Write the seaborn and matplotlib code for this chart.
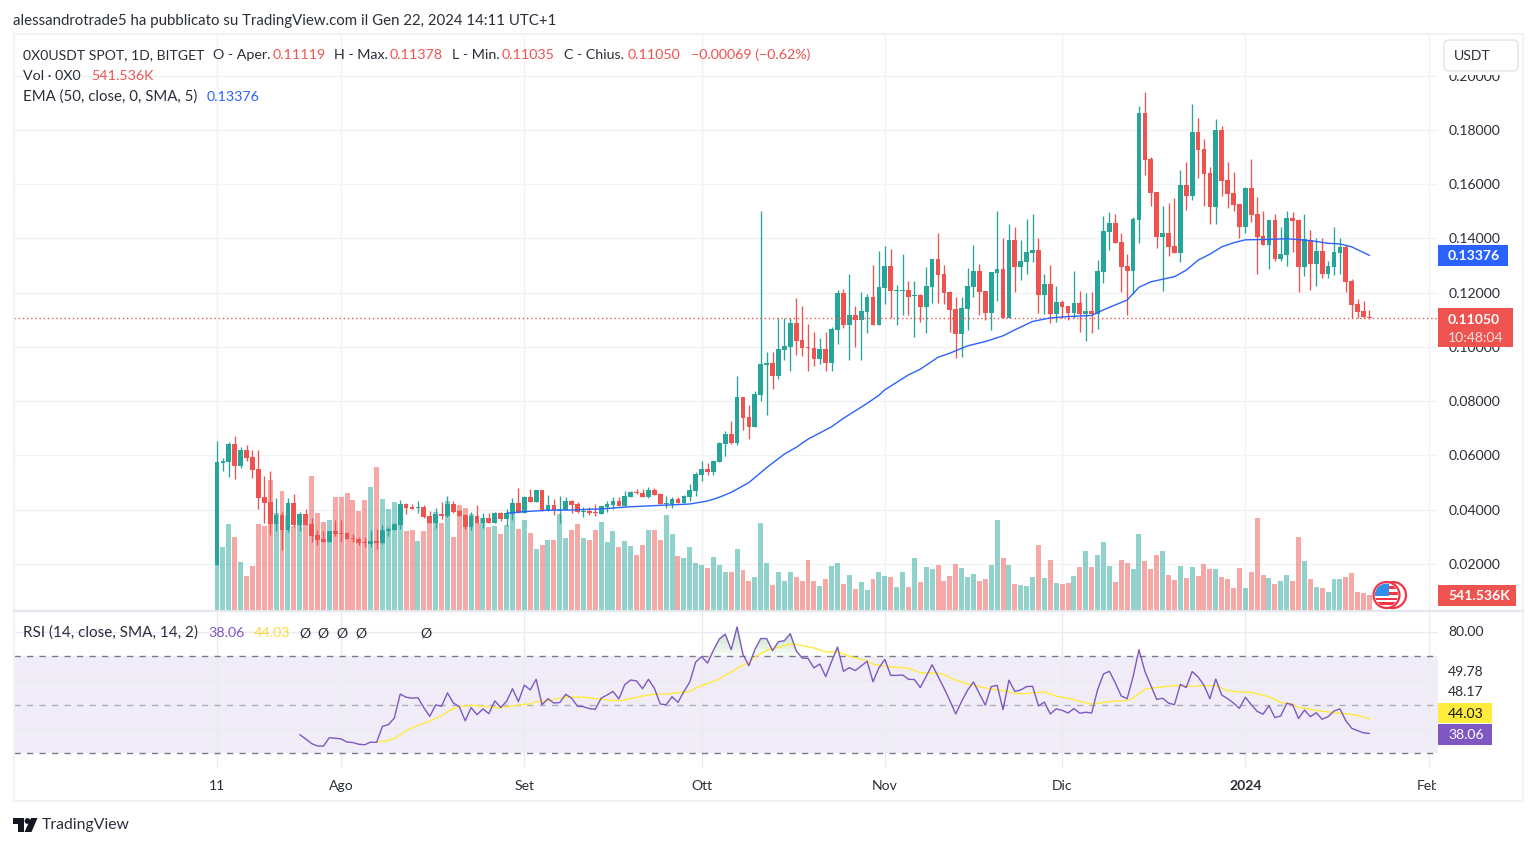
import numpy as np
import pandas as pd
import seaborn as sns
import matplotlib.pyplot as plt
from matplotlib.patches import Rectangle, Circle, FancyBboxPatch, Polygon
from matplotlib.transforms import Bbox

# prices are in thousandths of USDT, day 0 is Jul 11 2023
body_top = [57.6,58.0,64.2,64.2,62.0,62.0,59.4,55.0,44.7,42.8,
    38.1,38.1,42.5,42.5,38.4,38.4,34.7,30.7,29.2,32.2,
    32.2,31.4,31.4,29.6,29.2,28.1,28.5,28.5,32.5,32.9,
    34.7,42.1,42.1,41.0,41.0,41.0,37.7,38.4,38.4,42.1,
    42.1,39.5,38.1,37.7,37.7,37.0,37.0,38.8,38.8,38.8,
    42.5,42.5,44.7,44.7,47.3,47.3,41.7,41.7,40.3,43.2,
    43.2,42.1,39.5,39.5,39.2,41.4,42.1,43.2,43.2,45.0,
    46.5,46.6,46.2,47.3,47.3,45.8,42.5,44.0,44.0,45.0,
    47.3,53.2,55.0,55.0,58.0,64.6,67.9,67.9,81.6,81.6,
    74.2,82.7,93.7,94.1,94.1,99.3,100.4,108.9,108.9,102.6,
    100.0,99.6,99.3,99.3,106.6,119.9,119.9,111.8,111.8,113.3,
    118.4,118.4,122.1,129.9,129.9,121.0,121.0,121.0,119.2,119.2,
    122.5,132.4,132.4,126.9,120.3,114.0,114.4,122.5,128.0,128.0,
    120.7,127.7,128.8,128.8,139.5,139.5,131.7,135.0,135.8,135.8,
    123.2,123.2,116.6,116.6,115.1,116.2,116.2,113.3,113.3,128.0,
    142.8,145.7,145.7,138.7,129.9,147.2,186.2,186.2,169.3,157.1,
    142.0,142.0,137.2,159.7,159.7,179.2,179.2,173.0,164.1,180.0,
    180.0,161.5,156.7,152.7,158.6,158.6,149.0,140.9,146.8,146.8,
    134.2,147.5,147.5,146.8,139.8,139.4,135.4,135.4,129.8,135.0,
    136.8,136.8,124.3,115.8,113.2,111.19]
body_bot = [19.6,57.2,57.6,56.1,56.1,59.1,54.6,44.3,42.5,34.7,
    34.7,32.5,32.5,34.4,34.4,34.4,30.3,28.8,28.1,28.1,
    31.1,31.2,29.2,29.2,27.7,27.7,27.4,27.7,27.7,32.2,
    32.5,34.4,40.6,40.3,40.6,37.3,35.1,35.1,37.7,37.7,
    39.2,37.7,33.6,33.6,35.1,35.1,35.1,35.1,36.6,36.6,
    38.4,38.8,38.8,42.8,42.8,39.5,39.5,39.9,39.9,39.9,
    41.7,39.2,39.2,38.8,38.8,38.4,41.0,41.7,41.4,41.4,
    44.7,46.3,44.7,44.7,45.4,42.1,42.1,42.1,42.5,42.5,
    44.7,46.9,52.8,53.9,53.9,57.6,64.2,64.7,64.7,73.8,
    70.5,70.5,82.3,93.4,89.3,89.3,98.9,100.0,102.2,99.6,
    99.6,95.6,95.6,94.1,94.1,106.3,108.1,108.1,110.0,110.0,
    112.9,108.1,108.1,121.8,120.6,120.6,120.6,118.4,118.8,114.8,
    114.8,122.1,126.5,119.9,113.7,104.8,104.8,114.0,122.1,120.3,
    112.6,112.6,127.3,110.7,110.7,129.5,129.5,131.4,134.7,119.2,
    119.2,112.2,112.2,114.8,112.6,112.6,112.2,112.2,112.2,112.2,
    127.7,142.4,138.4,129.5,128.0,128.0,146.8,168.9,156.7,140.5,
    140.5,136.8,134.6,134.6,155.6,155.6,172.6,163.7,151.6,151.6,
    161.2,156.4,152.3,144.2,144.2,148.6,140.5,137.6,137.6,132.4,
    132.4,133.9,146.4,129.5,129.5,130.6,130.6,126.9,126.9,129.5,
    134.6,123.9,115.4,112.9,111.0,110.5]
high = [65.3,59.07,65.0,67.2,63.1,63.9,62.0,62.0,52.4,54.3,
    44.3,39.2,44.3,45.8,39.2,40.3,37.0,32.5,32.2,32.2,
    36.2,36.2,31.8,31.1,30.0,30.0,32.5,32.9,34.4,33.6,
    35.1,43.6,42.5,42.1,43.2,41.7,39.5,40.6,42.8,45.0,
    43.2,39.9,38.4,39.2,41.7,38.8,38.8,39.2,39.2,40.3,
    44.3,48.0,45.1,47.6,47.3,47.3,45.4,44.0,45.0,44.7,
    43.6,42.8,41.0,41.0,42.1,41.4,43.2,44.7,44.7,46.9,
    46.9,47.6,47.6,48.4,48.0,46.2,45.0,44.7,44.7,45.4,
    49.5,53.9,58.0,57.2,58.3,65.0,69.0,72.7,89.3,81.6,
    78.6,83.8,150.1,98.2,98.2,110.6,110.6,110.6,118.0,115.1,
    108.5,105.5,103.3,105.5,107.4,121.0,121.4,126.9,115.1,120.3,
    119.5,130.2,135.4,137.2,136.1,122.9,134.3,124.3,124.3,119.5,
    129.5,132.4,142.0,130.2,120.7,118.5,118.5,129.2,137.6,130.6,
    120.7,127.7,150.2,140.2,145.4,144.3,139.5,147.2,149.0,140.2,
    126.9,130.2,122.5,117.3,115.1,128.0,120.7,119.9,120.3,132.1,
    148.3,149.8,149.0,142.0,134.3,147.9,188.8,194.0,170.0,157.1,
    151.9,153.0,154.9,165.2,168.2,189.6,184.4,176.6,166.3,184.0,
    181.4,168.2,164.5,152.7,159.0,169.3,155.3,150.1,146.8,149.0,
    144.2,150.1,149.7,147.1,149.0,143.1,140.1,140.1,131.7,144.2,
    140.1,137.6,125.0,117.7,116.9,113.78]
low = [19.6,54.3,52.1,51.3,55.4,58.0,51.7,40.3,35.1,30.7,
    32.2,25.2,31.8,33.6,32.2,34.4,28.1,27.0,28.1,28.1,
    30.3,28.1,29.2,28.1,27.0,26.3,26.3,25.5,27.4,30.3,
    32.5,32.9,38.4,40.3,38.8,37.0,35.1,33.3,36.6,37.3,
    38.8,37.7,32.9,32.5,35.1,33.3,35.1,35.1,35.8,34.0,
    36.2,38.8,38.8,42.8,42.8,39.5,39.5,38.1,35.1,39.9,
    38.8,38.8,37.3,38.1,37.7,38.4,39.2,40.3,41.4,41.4,
    44.7,45.8,44.7,44.3,45.4,42.1,40.6,40.6,42.5,42.5,
    43.2,45.1,50.6,52.8,52.8,57.6,59.8,64.2,64.0,69.4,
    66.1,70.5,80.1,74.9,84.5,88.2,95.2,91.2,97.0,96.7,
    91.2,93.0,93.7,91.2,91.2,101.1,107.0,95.2,100.0,95.2,
    105.2,108.1,108.1,115.9,110.6,108.1,111.8,111.8,103.7,109.2,
    105.2,116.2,116.2,115.9,105.5,96.0,96.3,106.3,118.4,111.8,
    110.0,106.3,117.0,110.7,110.7,120.3,124.7,126.9,131.4,112.6,
    112.2,108.9,109.2,110.7,110.0,110.7,105.5,102.2,105.2,106.6,
    123.6,135.8,138.4,120.3,111.8,119.6,138.3,163.4,151.9,136.5,
    120.6,133.5,134.6,131.3,150.5,154.2,162.3,151.9,145.3,145.3,
    155.6,151.2,150.1,140.1,142.0,146.0,126.9,137.6,128.7,131.7,
    131.7,129.8,135.0,120.2,126.1,121.0,122.4,125.4,125.4,126.5,
    126.9,120.2,110.5,110.5,110.5,110.35]
direction = ('GGGRGRRRRR' 'GRGRGRRRRG' 'RRRRRRGRGG' 'GGRRGRRGRG' 'RRRGRGRGRG'
    'GRGRGRGRGG' 'RRGRRGGGRG' 'GRRGRRGGRG' 'GGGRGGGRGR' 'RGGGRGGGRR'
    'RRGRGGRGRG' 'GRGGRGGRGR' 'GGRRRRGGGR' 'RGGRGRGGGR' 'GRGRRGRGRG'
    'GGRRRGGRRR' 'GRRGRGRRRG' 'RRRRGRRRGR' 'GGRRGRGRGG' 'GRRRRR')
# volume in thousands
volume = [1557,2166,2944,2504,1658,1184,1523,2944,2876,4433,
    3316,4061,3249,2876,2910,2910,4568,3316,3012,3079,
    3858,3858,3993,3756,3384,3756,4196,4873,3790,3452,
    3689,2910,2707,2741,2369,2707,2978,3350,2978,3722,
    2504,3587,3486,3282,2978,3147,2843,2876,2606,2910,
    3282,2775,3079,2640,2098,2233,2403,2403,3282,2470,
    2741,2944,2470,2403,2741,3012,2335,2707,2166,2369,
    2200,1895,2233,2741,2741,2403,3249,2606,1861,1794,
    2166,1624,1557,1455,1827,1557,1320,1320,2098,1387,
    1015,1151,2978,1624,880,1320,1015,1320,1151,1015,
    1726,1015,846,1083,1523,1624,914,1218,744,981,
    711,1083,1320,1184,1151,812,1320,812,1794,981,
    1489,1421,1557,1015,1184,1590,1455,1151,1252,1015,
    1083,1557,3079,1794,1557,914,880,846,1151,2233,
    1117,1726,948,914,948,1184,1489,2030,1489,1895,
    2335,1523,981,1726,1624,1421,2606,1692,1421,1895,
    2030,1218,1049,1523,1117,1489,1184,1590,1421,1421,
    1151,1083,778,1455,778,1320,3147,1218,1117,914,
    1015,1218,1015,2504,1692,1083,812,778,643,1083,
    1083,1151,1286,643,609,541.536]
ema_days = [49,52,56,60,65,70,75,80,83,85,87,90,93,96,98,100,104,106,110,112,113,117,119,122,124,127,
    130,133,135,138,141,144,148,150,152,154,156,158,162,164,166,168,170,172,174,177,181,185,188,190,192,195]
ema_values = [38.7,39.3,39.8,39.9,40.3,41.1,41.6,42.1,43.2,44.6,46.4,50,55.5,60.5,63,66,70.6,73.7,79.2,82.2,84.2,89.7,91.8,96.2,97.7,100.4,
    102,104.1,106.3,109.4,110.7,111.2,111.6,113.7,115.5,117.3,122,124,125.9,128.3,132,134.2,136.9,138.4,139.5,139.6,139.9,139.2,138.2,138,136.9,133.76]
# rsi starts on day 14
rsi_values = [37.6,35.8,33.9,32.9,32.8,36.3,36.1,35.8,34.5,34.3,33.6,33.4,34.5,34.4,41.0,41.7,44.4,54.3,53.0,52.6,
    52.8,48.7,45.1,49.8,49.3,54.8,50.6,49.1,43.3,48.7,45.8,48.2,46.2,51.5,48.8,51.3,56.5,51.2,58.0,56.0,
    60.4,49.9,52.4,50.6,50.8,54.2,52.6,49.3,49.1,48.3,48.0,52.6,53.9,55.4,52.3,58.2,60.1,59.7,56.5,60.4,
    56.7,50.2,49.9,53.2,50.9,55.3,59.3,67.5,69.7,67.1,72.4,77.0,79.0,72.6,82.0,70.6,66.0,72.6,77.2,77.2,
    72.2,75.9,76.3,79.2,72.2,69.2,69.0,65.1,66.7,61.5,67.8,73.7,63.7,65.2,64.0,65.9,67.8,59.4,65.1,68.6,
    62.0,62.0,62.2,60.4,60.3,57.0,61.6,66.4,61.6,56.8,51.6,46.1,51.3,55.9,59.3,54.5,49.7,57.4,57.9,47.9,
    60.0,55.4,56.0,57.4,57.5,49.4,51.0,46.1,48.2,47.6,46.5,48.3,46.4,46.8,46.5,56.1,62.6,63.7,58.9,53.5,
    52.4,61.4,72.6,63.7,57.9,52.1,52.6,50.6,49.9,58.3,57.0,63.6,61.4,57.9,52.4,60.5,53.9,52.4,50.6,48.4,
    53.0,49.9,47.2,46.0,49.5,44.6,45.3,50.5,49.9,44.2,47.7,45.0,46.6,43.9,45.0,47.3,48.2,43.3,40.2,39.2,
    38.3,38.06]
rsi_ma_days = [27,29,30,31,32,34,36,38,39,40,41,43,45,48,50,52,53,54,55,57,59,62,64,66,68,70,72,74,76,78,80,81,82,83,85,86,88,90,91,93,95,97,98,101,
    103,105,107,110,111,114,117,119,122,123,125,127,130,133,135,137,140,142,144,146,148,151,154,155,157,159,162,165,168,169,171,173,175,178,180,182,183,186,189,191,193,195]
rsi_ma_values = [34.5,35.2,36.0,37.4,39.2,41.4,43.2,45.3,47.0,48.3,49.1,49.7,49.3,48.6,49.4,50.1,50.2,51.2,51.2,52.1,53.0,53.1,52.4,51.9,51.5,52.4,53.5,54.2,54.3,54.9,55.3,56.8,57.8,58.6,60.5,62.0,64.9,67.4,69.5,72.4,73.6,75.0,74.8,73.3,
    71.7,71.7,69.9,68.0,66.6,65.5,64.9,63.1,62.9,62.3,60.0,58.5,56.8,55.7,54.5,54.5,55.2,53.4,52.6,51.3,50.1,51.2,51.7,52.6,56.3,57.0,57.8,57.5,57.8,57.8,55.7,55.2,55.0,53.2,50.9,50.2,48.8,47.6,46.6,46.2,45.5,44.03]
tick_days = [0,21,52,82,113,143,174,205]
tick_labels = ['11','Ago','Set','Ott','Nov','Dic','2024','Feb']
price_ticks = [20,40,60,80,100,120,140,160,180,200]
last_close = 110.5

W, H = 1536, 846
GREEN, RED, BLUE, PURPLE, YELLOW = '#26a69a', '#ef5350', '#2962ff', '#7e57c2', '#ffeb3b'
TEXT = '#2a2e39'
GRID = '#f1f2f6'

sns.set_theme(style='white')
plt.rcParams['font.family'] = ['Lato', 'DejaVu Sans']
fig = plt.figure(figsize=(W / 100, H / 100), dpi=100, facecolor='white')


def pane(x0, y0, x1, y1, **kw):
    return fig.add_axes([x0 / W, 1 - y1 / H, (x1 - x0) / W, (y1 - y0) / H], **kw)


def clean(ax):
    sns.despine(ax=ax, left=True, bottom=True, right=True, top=True)
    ax.set_xlabel('')
    ax.set_ylabel('')


days = np.arange(len(body_top))
up = np.array([c == 'G' for c in direction])
df = pd.DataFrame({'day': days, 'vol': volume, 'dir': list(direction)})
xlim = ((14 - 217) / 5.91, (1438 - 217) / 5.91)
price_at = lambda y: (618.2 - y) / 2.7125
vol_top = 576 * 33.84

# volume pane sits behind the candles and carries the grid
vol_ax = pane(14, 35, 1438, 611)
sns.barplot(data=df, x='day', y='vol', hue='dir', palette={'G': GREEN, 'R': RED}, native_scale=True,
            dodge=False, width=0.84, gap=0, alpha=0.5, saturation=1, linewidth=0, legend=False, ax=vol_ax)
vol_ax.set_ylim(0, vol_top)
vol_ax.set_xlim(xlim)
vol_ax.set_yticks([(t - price_at(611)) / (price_at(35) - price_at(611)) * vol_top for t in price_ticks])
vol_ax.set_yticklabels([])
vol_ax.tick_params(length=0, labelbottom=False, labelleft=False)
vol_ax.grid(color=GRID, lw=1)
vol_ax.set_axisbelow(True)
clean(vol_ax)

ax = pane(14, 35, 1438, 611, sharex=vol_ax)
ax.patch.set_visible(False)
ax.set_ylim(price_at(611), price_at(35))
ax.set_yticks(price_ticks)
ax.set_yticklabels([f'{t / 1000:.5f}' for t in price_ticks], color=TEXT, fontsize=10.1)
ax.yaxis.tick_right()
ax.tick_params(axis='y', length=0, pad=7.5)
ax.tick_params(axis='x', length=0, labelbottom=False)
ax.grid(False)
clean(ax)
for lbl in ax.get_yticklabels():
    lbl.set_clip_on(True)
    lbl.set_clip_box(Bbox([[0, 0], [W, H - 75]]))

colors = np.where(up, GREEN, RED)
ax.vlines(days, np.array(low), np.array(high), colors=colors, lw=0.95, zorder=3)
ax.bar(days, np.array(body_top) - np.array(body_bot), bottom=body_bot, width=0.8, color=colors, lw=0, zorder=4)
ax.axhline(last_close, color=RED, lw=1, ls=(0, (1, 2)), zorder=5)
sns.lineplot(x=ema_days, y=ema_values, color=BLUE, lw=1, ax=ax, zorder=6)
clean(ax)

# rsi pane
rsi_at = lambda y: 70 - (y - 656) / 2.425
rsi_ax = pane(14, 612, 1438, 767, sharex=vol_ax)
rsi_days = days[14:]
rsi = np.array(rsi_values)
rsi_ax.set_ylim(rsi_at(767), rsi_at(612))
rsi_ax.axhspan(30, 70, color=PURPLE, alpha=0.1, lw=0, zorder=0)
rsi_ax.axhline(70, color='#787b86', lw=1, ls=(0, (4.5, 4.5)), zorder=2)
rsi_ax.axhline(50, color='#787b86', lw=1, alpha=0.55, ls=(0, (4.5, 4.5)), zorder=2)
rsi_ax.axhline(30, color='#787b86', lw=1, ls=(0, (4.5, 4.5)), zorder=2)
for lvl in [70, 71.5, 73, 75, 77]:
    rsi_ax.fill_between(rsi_days, lvl, rsi, where=rsi >= lvl, interpolate=True, color='#4caf50', alpha=0.05, lw=0, zorder=2)
sns.lineplot(x=rsi_days, y=rsi, color=PURPLE, lw=1, ax=rsi_ax, zorder=4)
sns.lineplot(x=rsi_ma_days, y=rsi_ma_values, color=YELLOW, lw=1, ax=rsi_ax, zorder=3)
rsi_ax.set_yticks([40, 60, 80])
rsi_ax.set_yticklabels([])
rsi_ax.set_xticks(tick_days)
rsi_ax.set_xticklabels(tick_labels, color=TEXT, fontsize=10.1)
rsi_ax.tick_params(length=0, pad=9.5)
rsi_ax.grid(color='#ebeaf2', lw=1)
rsi_ax.set_axisbelow(True)
clean(rsi_ax)
rsi_ax.set_xlim(xlim)
for lbl in rsi_ax.get_xticklabels():
    if lbl.get_text() == '2024':
        lbl.set_fontweight('bold')

# overlay in figure pixels: frame, price tags, legend rows, logo
ov = pane(0, 0, W, H, zorder=20)
ov.set_xlim(0, W)
ov.set_ylim(H, 0)
ov.axis('off')
ov.patch.set_visible(False)


def put(x, y, s, color=TEXT, size=14, **kw):
    return ov.text(x, y, s, color=color, fontsize=size * 0.72, va='center', ha=kw.pop('ha', 'left'), **kw)


def tag(x0, y0, x1, y1, color):
    ov.add_patch(Rectangle((x0, y0), x1 - x0, y1 - y0, facecolor=color, lw=0, zorder=3))


# white strip hides the end of the clipped Feb label
ov.add_patch(Rectangle((1436, 774), 12, 24, fc='white', lw=0, zorder=2))
ov.add_patch(Rectangle((13.5, 34.5), 1509.5, 766.5, fill=False, edgecolor=GRID, lw=1.5))
ov.plot([14, 1523], [611.5, 611.5], color='#e6e6ef', lw=1.5)

ov.add_patch(FancyBboxPatch((1446, 42), 70, 27, boxstyle='round,pad=2,rounding_size=5', fc='white', ec='#e0e3eb', lw=1, zorder=3))
put(1454, 56, 'USDT', zorder=4)

tag(1438, 245, 1508, 266, BLUE)
put(1448, 256, '0.13376', 'white', weight='bold', zorder=4)
tag(1438, 308, 1513, 347, RED)
put(1448, 320, '0.11050', 'white', weight='bold', zorder=4)
put(1448, 338, '10:48:04', '#fde0df', zorder=4)
tag(1438, 585, 1516, 606, RED)
put(1448, 596, '541.536K', 'white', weight='bold', zorder=4)
put(1448, 632, '80.00')
put(1448, 671.5, '49.78')
put(1448, 691.5, '48.17')
tag(1438, 703.5, 1492, 723.5, YELLOW)
put(1448, 714, '44.03', '#131722', zorder=4)
tag(1438, 724, 1492, 745, PURPLE)
put(1448, 735, '38.06', 'white', zorder=4)

put(13, 20.5, 'alessandrotrade5 ha pubblicato su TradingView.com il Gen 22, 2024 14:11 UTC+1', size=15)
put(23, 55, '0X0USDT SPOT, 1D, BITGET')
put(213, 55, 'O - Aper.', size=14.2)
put(272.5, 55, '0.11119', RED, size=14.2)
put(334.5, 55, 'H - Max.', size=14.2)
put(390, 55, '0.11378', RED, size=14.2)
put(452, 55, 'L - Min.', size=14.2)
put(502, 55, '0.11035', RED, size=14.2)
put(564, 55, 'C - Chius.', size=14.2)
put(628, 55, '0.11050', RED, size=14.2)
put(691, 55, '\u22120.00069 (\u22120.62%)', RED, size=14.2)
put(23, 76, 'Vol \u00b7 0X0', size=14.3)
put(91, 76, '541.536K', RED, size=14.2)
put(23, 97, 'EMA (50, close, 0, SMA, 5)', size=15)
put(207, 97, '0.13376', BLUE, size=14.2)
put(23, 633, 'RSI (14, close, SMA, 14, 2)', size=15.2)
put(208, 633, '38.06', PURPLE, size=14.2)
put(254, 633, '44.03', '#fdd835', size=14.2)
for xp in [304.5, 323.4, 342.3, 361.3, 426.4]:
    put(xp, 633, '\u00d8', ha='center')

# currency flag marker
ov.add_patch(Circle((1393, 595), 13, fc='white', ec='#f23645', lw=1.6, zorder=5))
front = Circle((1386.5, 595), 13, fc='white', ec='#f23645', lw=1.6, zorder=6)
ov.add_patch(front)
for (x0, y0, x1, y1, c) in [(1374, 586, 1399, 589.5, '#f23645'), (1374, 592, 1399, 595.5, '#f23645'),
                            (1374, 598, 1399, 600, '#f23645'), (1374, 602, 1399, 605, '#f23645'),
                            (1374, 583, 1388.5, 596, '#2f8fea')]:
    r = Rectangle((x0, y0), x1 - x0, y1 - y0, fc=c, lw=0, zorder=7)
    ov.add_patch(r)
    r.set_clip_path(Circle((1386.5, 595), 11.5, transform=ov.transData))

# logo
ov.add_patch(Polygon([(13, 818), (24, 818), (24, 832), (18, 832), (18, 824), (13, 824)], fc='#131722', lw=0))
ov.add_patch(Circle((27.5, 821), 2.9, fc='#131722', lw=0))
ov.add_patch(Polygon([(31, 818), (37.5, 818), (31.5, 832), (24.5, 832)], fc='#131722', lw=0))
put(42, 825.5, 'TradingView', '#2a2e39', size=15.8)

fig.savefig('out.png', dpi=100)
